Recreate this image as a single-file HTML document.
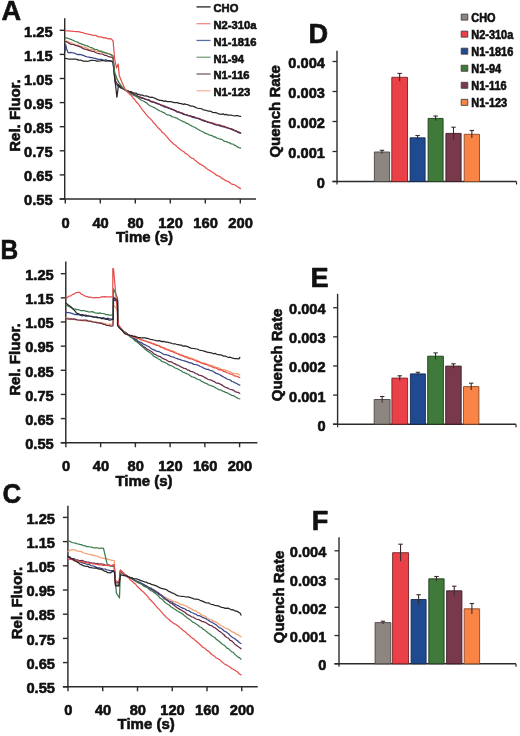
<!DOCTYPE html><html><head><meta charset="utf-8"><title>Figure</title><style>html,body{margin:0;padding:0;background:#fff;width:520px;height:736px;overflow:hidden}svg{display:block;filter:blur(0.3px)}</style></head><body><svg width="520" height="736" viewBox="0 0 520 736" font-family='"Liberation Sans", sans-serif' font-weight="bold" fill="#111" stroke-linejoin="round">
<style>text{stroke:#111;stroke-width:0.6px}</style>
<rect width="520" height="736" fill="#fff"/>
<text x="1.60" y="20.10" font-size="27.2" text-anchor="start" >A</text>
<text x="0.60" y="259.20" font-size="27.2" text-anchor="start"  textLength="17.68" lengthAdjust="spacingAndGlyphs">B</text>
<text x="2.50" y="503.40" font-size="27.2" text-anchor="start"  textLength="18.66" lengthAdjust="spacingAndGlyphs">C</text>
<text x="308.60" y="42.80" font-size="27.2" text-anchor="start" >D</text>
<text x="310.60" y="287.10" font-size="27.2" text-anchor="start" >E</text>
<text x="311.80" y="529.50" font-size="27.2" text-anchor="start" >F</text>
<line x1="64.70" y1="18.20" x2="64.70" y2="199.70" stroke="#2e2a2a" stroke-width="1.45"/>
<line x1="59.70" y1="199.00" x2="256.00" y2="199.00" stroke="#2e2a2a" stroke-width="1.45"/>
<line x1="59.70" y1="30.30" x2="64.70" y2="30.30" stroke="#2e2a2a" stroke-width="1.4"/>
<text x="52.60" y="36.50" font-size="14.7" text-anchor="end" >1.25</text>
<line x1="59.70" y1="54.40" x2="64.70" y2="54.40" stroke="#2e2a2a" stroke-width="1.4"/>
<text x="52.60" y="60.60" font-size="14.7" text-anchor="end" >1.15</text>
<line x1="59.70" y1="78.50" x2="64.70" y2="78.50" stroke="#2e2a2a" stroke-width="1.4"/>
<text x="52.60" y="84.70" font-size="14.7" text-anchor="end" >1.05</text>
<line x1="59.70" y1="102.60" x2="64.70" y2="102.60" stroke="#2e2a2a" stroke-width="1.4"/>
<text x="52.60" y="108.80" font-size="14.7" text-anchor="end" >0.95</text>
<line x1="59.70" y1="126.70" x2="64.70" y2="126.70" stroke="#2e2a2a" stroke-width="1.4"/>
<text x="52.60" y="132.90" font-size="14.7" text-anchor="end" >0.85</text>
<line x1="59.70" y1="150.80" x2="64.70" y2="150.80" stroke="#2e2a2a" stroke-width="1.4"/>
<text x="52.60" y="157.00" font-size="14.7" text-anchor="end" >0.75</text>
<line x1="59.70" y1="174.90" x2="64.70" y2="174.90" stroke="#2e2a2a" stroke-width="1.4"/>
<text x="52.60" y="181.10" font-size="14.7" text-anchor="end" >0.65</text>
<line x1="59.70" y1="199.00" x2="64.70" y2="199.00" stroke="#2e2a2a" stroke-width="1.4"/>
<text x="52.60" y="205.20" font-size="14.7" text-anchor="end" >0.55</text>
<line x1="65.30" y1="199.00" x2="65.30" y2="203.50" stroke="#2e2a2a" stroke-width="1.4"/>
<text x="65.60" y="227.50" font-size="14.7" text-anchor="middle" >0</text>
<line x1="100.30" y1="199.00" x2="100.30" y2="203.50" stroke="#2e2a2a" stroke-width="1.4"/>
<text x="100.60" y="227.50" font-size="14.7" text-anchor="middle" >40</text>
<line x1="135.30" y1="199.00" x2="135.30" y2="203.50" stroke="#2e2a2a" stroke-width="1.4"/>
<text x="135.60" y="227.50" font-size="14.7" text-anchor="middle" >80</text>
<line x1="170.30" y1="199.00" x2="170.30" y2="203.50" stroke="#2e2a2a" stroke-width="1.4"/>
<text x="170.60" y="227.50" font-size="14.7" text-anchor="middle" >120</text>
<line x1="205.30" y1="199.00" x2="205.30" y2="203.50" stroke="#2e2a2a" stroke-width="1.4"/>
<text x="205.60" y="227.50" font-size="14.7" text-anchor="middle" >160</text>
<line x1="240.30" y1="199.00" x2="240.30" y2="203.50" stroke="#2e2a2a" stroke-width="1.4"/>
<text x="240.60" y="227.50" font-size="14.7" text-anchor="middle" >200</text>
<text x="144.50" y="241.70" font-size="15" text-anchor="middle" >Time (s)</text>
<text x="0" y="0" font-size="15" text-anchor="middle" transform="translate(19.60,115.50) rotate(-90)">Rel. Fluor.</text>
<line x1="65.80" y1="261.50" x2="65.80" y2="443.45" stroke="#2e2a2a" stroke-width="1.45"/>
<line x1="60.80" y1="442.75" x2="257.40" y2="442.75" stroke="#2e2a2a" stroke-width="1.45"/>
<line x1="60.80" y1="273.70" x2="65.80" y2="273.70" stroke="#2e2a2a" stroke-width="1.4"/>
<text x="53.80" y="279.90" font-size="14.7" text-anchor="end" >1.25</text>
<line x1="60.80" y1="297.85" x2="65.80" y2="297.85" stroke="#2e2a2a" stroke-width="1.4"/>
<text x="53.80" y="304.05" font-size="14.7" text-anchor="end" >1.15</text>
<line x1="60.80" y1="322.00" x2="65.80" y2="322.00" stroke="#2e2a2a" stroke-width="1.4"/>
<text x="53.80" y="328.20" font-size="14.7" text-anchor="end" >1.05</text>
<line x1="60.80" y1="346.15" x2="65.80" y2="346.15" stroke="#2e2a2a" stroke-width="1.4"/>
<text x="53.80" y="352.35" font-size="14.7" text-anchor="end" >0.95</text>
<line x1="60.80" y1="370.30" x2="65.80" y2="370.30" stroke="#2e2a2a" stroke-width="1.4"/>
<text x="53.80" y="376.50" font-size="14.7" text-anchor="end" >0.85</text>
<line x1="60.80" y1="394.45" x2="65.80" y2="394.45" stroke="#2e2a2a" stroke-width="1.4"/>
<text x="53.80" y="400.65" font-size="14.7" text-anchor="end" >0.75</text>
<line x1="60.80" y1="418.60" x2="65.80" y2="418.60" stroke="#2e2a2a" stroke-width="1.4"/>
<text x="53.80" y="424.80" font-size="14.7" text-anchor="end" >0.65</text>
<line x1="60.80" y1="442.75" x2="65.80" y2="442.75" stroke="#2e2a2a" stroke-width="1.4"/>
<text x="53.80" y="448.95" font-size="14.7" text-anchor="end" >0.55</text>
<line x1="65.90" y1="442.75" x2="65.90" y2="447.25" stroke="#2e2a2a" stroke-width="1.4"/>
<text x="66.20" y="471.00" font-size="14.7" text-anchor="middle" >0</text>
<line x1="100.64" y1="442.75" x2="100.64" y2="447.25" stroke="#2e2a2a" stroke-width="1.4"/>
<text x="100.94" y="471.00" font-size="14.7" text-anchor="middle" >40</text>
<line x1="135.38" y1="442.75" x2="135.38" y2="447.25" stroke="#2e2a2a" stroke-width="1.4"/>
<text x="135.68" y="471.00" font-size="14.7" text-anchor="middle" >80</text>
<line x1="170.12" y1="442.75" x2="170.12" y2="447.25" stroke="#2e2a2a" stroke-width="1.4"/>
<text x="170.42" y="471.00" font-size="14.7" text-anchor="middle" >120</text>
<line x1="204.86" y1="442.75" x2="204.86" y2="447.25" stroke="#2e2a2a" stroke-width="1.4"/>
<text x="205.16" y="471.00" font-size="14.7" text-anchor="middle" >160</text>
<line x1="239.60" y1="442.75" x2="239.60" y2="447.25" stroke="#2e2a2a" stroke-width="1.4"/>
<text x="239.90" y="471.00" font-size="14.7" text-anchor="middle" >200</text>
<text x="144.00" y="485.60" font-size="15" text-anchor="middle" >Time (s)</text>
<text x="0" y="0" font-size="15" text-anchor="middle" transform="translate(20.40,359.60) rotate(-90)">Rel. Fluor.</text>
<line x1="67.90" y1="505.80" x2="67.90" y2="687.50" stroke="#2e2a2a" stroke-width="1.45"/>
<line x1="62.90" y1="686.80" x2="257.70" y2="686.80" stroke="#2e2a2a" stroke-width="1.45"/>
<line x1="62.90" y1="517.40" x2="67.90" y2="517.40" stroke="#2e2a2a" stroke-width="1.4"/>
<text x="55.00" y="523.60" font-size="14.7" text-anchor="end" >1.25</text>
<line x1="62.90" y1="541.60" x2="67.90" y2="541.60" stroke="#2e2a2a" stroke-width="1.4"/>
<text x="55.00" y="547.80" font-size="14.7" text-anchor="end" >1.15</text>
<line x1="62.90" y1="565.80" x2="67.90" y2="565.80" stroke="#2e2a2a" stroke-width="1.4"/>
<text x="55.00" y="572.00" font-size="14.7" text-anchor="end" >1.05</text>
<line x1="62.90" y1="590.00" x2="67.90" y2="590.00" stroke="#2e2a2a" stroke-width="1.4"/>
<text x="55.00" y="596.20" font-size="14.7" text-anchor="end" >0.95</text>
<line x1="62.90" y1="614.20" x2="67.90" y2="614.20" stroke="#2e2a2a" stroke-width="1.4"/>
<text x="55.00" y="620.40" font-size="14.7" text-anchor="end" >0.85</text>
<line x1="62.90" y1="638.40" x2="67.90" y2="638.40" stroke="#2e2a2a" stroke-width="1.4"/>
<text x="55.00" y="644.60" font-size="14.7" text-anchor="end" >0.75</text>
<line x1="62.90" y1="662.60" x2="67.90" y2="662.60" stroke="#2e2a2a" stroke-width="1.4"/>
<text x="55.00" y="668.80" font-size="14.7" text-anchor="end" >0.65</text>
<line x1="62.90" y1="686.80" x2="67.90" y2="686.80" stroke="#2e2a2a" stroke-width="1.4"/>
<text x="55.00" y="693.00" font-size="14.7" text-anchor="end" >0.55</text>
<line x1="68.00" y1="686.80" x2="68.00" y2="691.30" stroke="#2e2a2a" stroke-width="1.4"/>
<text x="68.30" y="715.20" font-size="14.7" text-anchor="middle" >0</text>
<line x1="102.75" y1="686.80" x2="102.75" y2="691.30" stroke="#2e2a2a" stroke-width="1.4"/>
<text x="103.05" y="715.20" font-size="14.7" text-anchor="middle" >40</text>
<line x1="137.50" y1="686.80" x2="137.50" y2="691.30" stroke="#2e2a2a" stroke-width="1.4"/>
<text x="137.80" y="715.20" font-size="14.7" text-anchor="middle" >80</text>
<line x1="172.25" y1="686.80" x2="172.25" y2="691.30" stroke="#2e2a2a" stroke-width="1.4"/>
<text x="172.55" y="715.20" font-size="14.7" text-anchor="middle" >120</text>
<line x1="207.00" y1="686.80" x2="207.00" y2="691.30" stroke="#2e2a2a" stroke-width="1.4"/>
<text x="207.30" y="715.20" font-size="14.7" text-anchor="middle" >160</text>
<line x1="241.75" y1="686.80" x2="241.75" y2="691.30" stroke="#2e2a2a" stroke-width="1.4"/>
<text x="242.05" y="715.20" font-size="14.7" text-anchor="middle" >200</text>
<text x="146.20" y="729.40" font-size="15" text-anchor="middle" >Time (s)</text>
<text x="0" y="0" font-size="15" text-anchor="middle" transform="translate(21.50,603.00) rotate(-90)">Rel. Fluor.</text>
<line x1="196.50" y1="6.90" x2="210.60" y2="6.90" stroke="#222" stroke-width="1.3"/>
<text x="213.50" y="12.30" font-size="11.2" text-anchor="start" >CHO</text>
<line x1="196.50" y1="23.68" x2="210.60" y2="23.68" stroke="#f08a8a" stroke-width="1.3"/>
<text x="213.50" y="29.08" font-size="11.2" text-anchor="start" >N2-310a</text>
<line x1="196.50" y1="40.46" x2="210.60" y2="40.46" stroke="#5a6fa8" stroke-width="1.3"/>
<text x="213.50" y="45.86" font-size="11.2" text-anchor="start" >N1-1816</text>
<line x1="196.50" y1="57.24" x2="210.60" y2="57.24" stroke="#7aa07a" stroke-width="1.3"/>
<text x="213.50" y="62.64" font-size="11.2" text-anchor="start" >N1-94</text>
<line x1="196.50" y1="74.02" x2="210.60" y2="74.02" stroke="#7a5a66" stroke-width="1.3"/>
<text x="213.50" y="79.42" font-size="11.2" text-anchor="start" >N1-116</text>
<line x1="196.50" y1="90.80" x2="210.60" y2="90.80" stroke="#f5b89a" stroke-width="1.3"/>
<text x="213.50" y="96.20" font-size="11.2" text-anchor="start" >N1-123</text>
<polyline points="65.4,40.8 67.0,41.2 68.5,41.7 70.1,42.7 71.7,42.8 73.4,43.8 75.4,44.5 76.7,44.8 78.1,45.0 79.5,45.9 81.0,46.0 82.5,46.9 84.0,47.1 85.7,47.6 87.3,48.4 89.0,49.3 90.8,49.5 92.2,49.5 93.6,50.0 95.1,50.7 96.6,51.4 98.2,51.4 99.7,51.6 101.3,52.5 102.9,52.0 104.5,53.1 106.1,52.9 107.7,53.2 109.2,53.5 110.8,54.2 113.0,56.0 115.0,75.0 118.0,82.0 119.7,83.9 121.3,86.4 123.1,87.8 125.4,90.0 126.6,90.9 128.0,91.7 129.5,92.2 131.1,93.1 132.7,93.4 134.3,94.2 136.0,95.0 137.6,96.1 139.2,96.6 140.8,97.2 142.5,97.8 144.3,98.6 146.0,99.2 147.8,99.6 149.4,100.7 151.0,101.1 152.4,101.2 153.7,101.9 155.5,102.6 156.5,102.9 157.7,103.7 160.0,104.3 161.1,105.0 162.4,105.1 163.8,106.3 165.3,106.1 166.9,107.1 168.6,108.1 170.3,108.2 172.0,109.2 173.8,109.5 175.4,110.8 177.1,111.5 178.6,111.9 180.0,112.4 181.7,113.4 183.4,113.4 185.0,114.3 186.5,114.7 188.0,115.2 189.5,115.5 190.9,116.3 192.3,116.8 193.7,116.8 195.0,117.3 196.8,118.1 198.5,118.1 200.2,119.3 201.7,119.8 203.3,120.7 204.9,121.1 206.5,121.3 208.2,121.6 209.8,122.2 211.5,123.0 213.1,122.9 214.8,123.8 216.4,124.0 218.1,124.8 219.8,124.9 221.4,125.4 223.1,126.5 224.7,126.4 226.4,127.0 228.0,127.6 229.6,128.3 231.2,129.2 232.8,129.2 234.3,130.1 235.9,130.9 237.5,131.9 239.0,132.5 240.6,132.9" fill="none" stroke="#f4a072" stroke-width="1.25" stroke-linejoin="round" stroke-linecap="round" opacity="1.0"/>
<polyline points="65.2,51.0 65.6,44.5 66.5,48.5 67.9,52.3 69.3,52.8 70.5,52.4 71.8,52.7 73.4,52.9 75.4,53.5 76.6,54.1 77.9,54.6 79.3,54.3 80.8,54.7 82.3,55.2 83.9,55.7 85.6,56.4 87.3,57.0 89.0,57.1 90.8,57.7 92.2,57.5 93.6,58.2 95.1,58.4 96.6,58.8 98.2,59.4 99.7,59.4 101.3,59.4 102.9,59.8 104.5,60.0 106.1,59.7 107.7,60.7 109.2,60.8 110.8,60.8 113.0,62.0 115.0,82.0 118.0,86.0 119.7,87.3 121.3,88.1 123.1,88.7 125.4,90.0 126.6,90.6 128.0,91.0 129.5,92.3 131.1,92.6 132.7,93.5 134.3,94.4 136.0,95.2 137.6,96.1 139.2,97.0 140.8,97.3 142.5,97.9 144.3,98.7 146.0,99.3 147.8,100.1 149.4,100.4 151.0,101.7 152.4,102.0 153.7,102.3 155.5,102.7 156.5,103.1 157.7,103.6 160.0,104.7 161.1,105.0 162.4,105.3 163.8,106.6 165.3,107.3 166.9,107.5 168.6,108.2 170.3,108.6 172.0,109.3 173.8,110.2 175.4,110.8 177.1,112.0 178.6,112.0 180.0,112.8 181.7,113.0 183.4,114.4 185.0,114.6 186.5,114.7 188.0,115.5 189.5,115.5 190.9,116.4 192.3,117.3 193.7,117.6 195.0,117.7 196.8,118.5 198.5,118.7 200.2,119.4 201.7,119.8 203.3,120.9 204.9,121.2 206.5,121.7 208.2,122.5 209.8,122.6 211.5,123.0 213.1,124.0 214.8,124.7 216.4,125.0 218.1,125.2 219.8,126.0 221.4,126.5 223.1,126.9 224.7,126.9 226.4,127.6 228.0,128.0 229.6,128.7 231.2,128.9 232.8,129.5 234.3,130.4 235.9,131.0 237.5,132.1 239.0,133.0 240.6,133.2" fill="none" stroke="#3b4889" stroke-width="1.25" stroke-linejoin="round" stroke-linecap="round" opacity="1.0"/>
<polyline points="65.4,41.5 67.0,42.1 68.5,43.1 70.1,43.8 71.7,44.4 73.4,44.5 75.4,45.4 76.7,45.6 78.1,46.1 79.5,46.6 81.0,47.2 82.5,48.1 84.0,48.9 85.7,49.4 87.3,49.6 89.0,50.4 90.8,50.8 92.2,51.5 93.6,51.3 95.1,52.3 96.6,53.0 98.2,53.3 99.7,53.8 101.3,54.0 102.9,54.2 104.5,55.3 106.1,55.3 107.7,56.2 109.2,56.9 110.8,56.9 113.0,58.0 115.0,80.0 118.0,85.0 119.7,86.1 121.3,87.3 123.1,89.0 125.4,90.0 126.6,90.9 128.0,91.1 129.5,91.9 131.1,92.7 132.7,94.1 134.3,94.9 136.0,95.0 137.6,96.4 139.2,96.8 140.8,97.9 142.5,98.3 144.3,98.7 146.0,99.5 147.8,99.7 149.4,100.2 151.0,101.6 152.4,101.8 153.7,102.1 155.5,102.8 156.5,103.5 157.7,103.5 160.0,104.5 161.1,105.3 162.4,105.8 163.8,105.8 165.3,106.5 166.9,107.2 168.6,107.8 170.3,108.8 172.0,109.2 173.8,110.1 175.4,110.5 177.1,111.8 178.6,111.9 180.0,112.6 181.7,113.2 183.4,113.9 185.0,114.7 186.5,114.8 188.0,115.7 189.5,115.8 190.9,116.2 192.3,116.6 193.7,116.6 195.0,117.5 196.8,118.1 198.5,118.4 200.2,118.9 201.7,120.1 203.3,120.1 204.9,120.9 206.5,121.5 208.2,122.2 209.8,122.6 211.5,122.9 213.1,123.5 214.8,124.1 216.4,124.8 218.1,125.0 219.8,125.1 221.4,126.0 223.1,126.2 224.7,126.7 226.4,127.7 228.0,128.0 229.6,128.5 231.2,129.1 232.8,129.9 234.3,130.7 235.9,130.9 237.5,131.6 239.0,132.2 240.6,132.8" fill="none" stroke="#682c47" stroke-width="1.25" stroke-linejoin="round" stroke-linecap="round" opacity="1.0"/>
<polyline points="65.4,58.5 66.9,58.7 68.4,59.0 70.0,59.0 71.8,59.0 73.6,59.1 75.4,59.2 76.9,59.4 78.3,60.1 80.0,60.0 81.3,60.4 82.9,60.9 84.5,61.3 86.1,61.0 87.7,61.5 90.8,60.3 92.9,60.4 95.0,60.5 96.6,61.1 98.3,61.2 100.0,61.0 101.6,60.7 103.3,60.7 105.0,61.0 106.9,61.0 108.8,60.7 110.8,61.2 113.0,62.0 115.0,80.0 116.9,97.2 117.6,92.0 118.5,84.6 120.8,87.7 122.0,88.2 123.2,88.7 125.4,90.0 126.5,90.6 127.8,91.1 129.3,91.7 130.9,91.6 132.5,92.6 134.2,93.1 135.9,93.1 137.6,94.3 139.2,94.4 140.8,95.2 142.5,95.0 144.3,96.0 146.0,95.9 147.8,96.4 149.4,97.2 151.0,97.4 152.4,97.2 153.7,97.8 155.5,98.4 156.5,99.1 157.7,99.6 160.0,100.4 161.1,100.3 162.4,100.7 163.9,101.3 165.5,100.9 167.2,101.6 168.9,101.7 170.7,101.6 172.5,102.1 174.2,102.6 175.8,102.7 177.4,102.5 178.8,103.5 180.0,103.3 182.1,103.9 183.6,104.4 184.8,103.9 185.9,104.3 187.3,104.5 189.2,105.4 190.5,106.0 191.9,106.0 193.5,106.3 195.1,107.1 196.8,108.0 198.6,108.4 200.3,108.5 202.0,108.9 203.6,110.0 205.1,110.2 206.5,110.5 208.4,111.2 209.9,111.1 211.3,111.5 212.7,112.5 214.2,112.6 215.9,112.7 218.1,113.5 219.3,114.1 220.6,114.0 221.9,114.4 223.3,113.9 224.8,114.8 226.3,114.3 227.9,115.2 229.5,115.0 231.1,115.1 232.7,115.5 234.3,116.0 235.9,115.6 237.5,115.7 239.1,116.2 240.6,116.4" fill="none" stroke="#29262a" stroke-width="1.25" stroke-linejoin="round" stroke-linecap="round" opacity="1.0"/>
<polyline points="65.4,37.7 67.0,38.1 68.5,38.5 70.1,39.1 71.7,39.7 73.4,40.5 75.4,41.5 76.7,41.9 78.1,42.4 79.5,43.4 81.0,43.6 82.5,44.4 84.0,44.8 85.7,45.6 87.3,45.9 89.0,46.8 90.8,47.7 92.2,47.8 93.6,48.9 95.1,49.3 96.6,49.5 98.2,50.3 99.7,51.2 101.3,51.0 102.9,52.2 104.5,52.4 106.1,53.0 107.7,53.8 109.2,54.0 110.8,54.6 113.0,56.0 114.6,72.3 116.9,78.5 119.2,83.0 120.5,84.7 121.6,86.5 123.1,88.4 125.4,90.0 126.5,90.7 127.8,92.0 129.2,92.8 130.6,93.7 132.2,94.5 133.8,95.4 135.5,96.1 137.2,97.2 138.8,98.2 140.5,99.7 142.1,100.5 143.7,101.2 145.3,102.1 146.8,103.0 148.4,104.7 150.0,105.7 151.7,106.5 153.3,107.1 154.9,108.0 156.6,109.0 158.3,110.1 160.0,111.0 161.5,111.4 163.0,112.4 164.5,112.9 166.0,114.2 167.5,114.9 169.1,115.2 170.6,115.6 172.2,116.9 173.8,117.0 175.3,117.7 176.9,118.1 178.5,119.2 180.0,120.0 181.5,120.7 183.1,121.6 184.7,122.1 186.2,123.2 187.8,123.6 189.3,124.7 190.9,125.4 192.4,126.5 194.0,127.0 195.5,127.8 197.0,128.8 198.5,129.5 200.0,130.5 201.6,131.3 203.2,132.0 204.8,132.9 206.4,133.6 208.0,134.3 209.6,135.1 211.1,135.3 212.6,135.9 214.1,137.1 215.5,136.9 216.8,138.0 218.1,138.3 220.1,139.2 221.9,139.4 223.5,140.8 225.1,141.4 226.5,141.7 228.0,142.4 229.6,142.9 231.2,143.9 232.8,144.0 234.3,145.1 235.9,145.8 237.5,146.9 239.0,147.6 240.6,148.1" fill="none" stroke="#3c7a50" stroke-width="1.25" stroke-linejoin="round" stroke-linecap="round" opacity="1.0"/>
<polyline points="65.4,30.5 67.0,30.9 68.5,30.8 70.1,31.2 71.7,31.2 73.4,31.4 75.4,31.5 76.7,31.5 78.1,31.6 79.6,31.9 81.2,32.4 82.8,32.5 84.4,33.5 86.0,33.6 87.6,34.0 89.2,34.4 90.8,34.6 92.4,35.1 94.0,35.3 95.7,35.3 97.4,36.4 99.1,36.8 100.8,36.9 102.3,37.3 103.8,37.8 105.1,37.6 106.2,38.2 108.7,38.9 110.1,38.7 111.5,39.2 113.1,41.0 114.6,58.5 116.5,68.0 118.2,64.0 119.2,75.4 122.3,83.0 125.4,90.0 126.9,91.1 128.4,92.7 129.9,94.6 131.4,95.6 132.9,97.7 134.4,99.2 136.0,101.5 137.6,103.2 139.2,105.2 140.8,107.5 142.4,109.8 144.0,111.7 145.7,113.9 147.4,115.8 149.1,117.8 150.7,119.1 152.3,120.9 153.7,122.8 155.8,124.9 157.5,127.2 159.6,129.2 161.0,130.5 162.5,132.5 164.2,133.8 165.9,135.7 167.6,137.7 169.2,139.6 170.8,141.3 172.4,142.8 174.0,144.3 175.6,145.3 177.2,146.9 178.8,148.2 180.4,149.5 182.1,150.8 183.8,151.7 185.5,153.6 187.1,154.1 188.5,155.4 190.2,157.1 191.6,158.1 193.1,158.4 195.0,160.2 196.4,161.2 197.9,162.6 199.6,163.9 201.3,164.7 203.1,165.8 204.8,167.0 206.5,168.4 208.2,169.9 209.8,170.3 211.5,171.7 213.1,172.4 214.8,173.8 216.4,175.2 218.1,175.8 219.8,176.5 221.4,178.1 223.1,178.8 224.7,180.1 226.4,180.8 228.0,181.3 229.6,182.5 231.2,183.8 232.8,184.3 234.3,184.7 235.9,185.5 237.5,186.8 239.0,187.6 240.6,188.5" fill="none" stroke="#e5504f" stroke-width="1.25" stroke-linejoin="round" stroke-linecap="round" opacity="1.0"/>
<polyline points="66.0,317.7 67.5,317.9 68.9,318.1 70.3,318.6 71.8,318.9 73.5,319.7 75.4,319.7 76.7,319.4 78.0,320.3 79.4,320.5 80.9,320.0 82.4,320.9 84.0,320.9 85.7,321.2 87.3,320.9 89.0,321.2 90.8,321.5 92.2,321.6 93.6,322.4 95.1,322.2 96.6,322.2 98.2,322.5 99.7,322.6 101.3,322.7 102.9,323.0 104.5,323.9 106.1,323.7 107.7,324.5 109.2,324.1 110.8,324.6 113.0,324.0 113.5,305.0 115.5,307.3 117.5,310.0 118.0,325.0 119.6,327.1 121.3,328.9 123.0,331.0 124.0,332.2 125.1,333.8 128.5,335.0 129.5,335.8 130.7,336.1 132.0,336.4 133.4,337.2 134.9,337.7 136.5,337.9 138.2,338.6 139.9,338.6 141.6,339.8 143.4,340.1 145.2,341.0 147.0,341.5 148.8,341.8 150.5,342.1 152.2,343.5 153.8,343.4 155.4,344.3 157.0,344.9 158.5,345.4 160.1,345.9 161.6,346.9 163.1,347.7 164.6,347.7 166.0,348.7 167.5,349.0 169.0,349.8 170.5,350.3 172.0,350.7 173.5,351.3 175.1,352.0 176.7,353.3 178.3,353.5 180.0,354.2 181.4,354.5 182.9,355.7 184.4,356.3 185.9,356.4 187.5,356.7 189.1,357.4 190.6,357.9 192.2,358.7 193.8,359.0 195.4,359.8 197.0,360.4 198.7,361.3 200.3,362.1 201.9,362.6 203.5,362.9 205.1,363.4 206.7,364.1 208.3,364.5 209.9,365.2 211.5,365.6 213.0,365.9 214.6,366.6 216.2,367.8 217.8,367.5 219.3,368.4 220.9,369.0 222.5,369.7 224.1,369.7 225.6,370.2 227.2,370.7 228.8,371.4 230.4,371.9 231.9,372.9 233.5,373.3 235.1,373.8 236.7,373.5 238.2,374.1 239.8,375.0" fill="none" stroke="#f4a072" stroke-width="1.25" stroke-linejoin="round" stroke-linecap="round" opacity="1.0"/>
<polyline points="66.0,318.5 67.6,318.9 69.1,319.2 70.7,318.9 72.3,319.2 73.9,318.8 75.5,319.3 77.1,319.9 78.7,320.0 80.3,320.2 81.9,320.4 83.4,320.0 84.9,320.0 86.4,320.2 87.9,320.8 89.4,321.1 90.8,321.2 92.5,321.9 94.1,322.0 95.7,322.3 97.3,322.8 98.8,322.9 100.4,323.4 101.8,323.3 103.3,324.4 104.8,324.3 106.3,325.4 107.8,325.5 109.3,325.6 110.8,326.2 113.0,326.0 113.5,300.0 115.5,300.7 117.5,302.0 118.0,326.0 119.6,327.5 121.3,329.5 123.0,331.0 124.0,332.0 125.1,332.2 128.5,335.0 129.5,335.4 130.7,336.6 132.0,337.7 133.4,338.6 134.9,339.6 136.5,341.1 138.2,341.8 139.9,343.4 141.6,344.8 143.4,346.6 145.2,347.6 147.0,349.1 148.8,350.0 150.5,351.0 152.2,352.1 153.8,353.8 155.4,354.4 157.0,355.5 158.5,356.1 160.1,356.6 161.6,357.8 163.1,358.7 164.6,359.2 166.0,359.8 167.5,360.8 169.0,361.7 170.5,361.7 172.0,362.2 173.5,363.2 175.1,363.9 176.7,364.9 178.3,365.2 180.0,366.2 181.4,367.1 182.9,367.8 184.4,368.3 185.9,368.7 187.5,370.1 189.1,370.2 190.6,371.4 192.2,371.6 193.8,372.3 195.4,373.5 197.0,373.8 198.7,375.1 200.3,375.4 201.9,375.9 203.5,376.7 205.1,377.6 206.7,378.5 208.3,379.5 209.9,379.8 211.5,380.2 213.0,381.1 214.6,381.7 216.2,383.1 217.8,383.1 219.3,383.7 220.9,384.4 222.5,385.4 224.1,386.6 225.6,387.3 227.2,387.9 228.8,388.8 230.4,389.5 231.9,389.7 233.5,390.3 235.1,391.6 236.7,392.2 238.2,392.3 239.8,393.4" fill="none" stroke="#682c47" stroke-width="1.25" stroke-linejoin="round" stroke-linecap="round" opacity="1.0"/>
<polyline points="66.0,312.3 67.6,312.7 69.2,312.7 70.8,313.1 71.9,313.4 73.1,313.9 75.4,314.6 76.5,314.5 77.7,314.5 79.1,314.9 80.6,315.2 82.1,315.9 83.8,315.3 85.5,316.3 87.3,315.8 89.0,316.2 90.8,316.5 92.2,317.0 93.6,317.1 95.1,317.0 96.6,316.8 98.2,317.4 99.7,317.5 101.3,318.2 102.9,317.7 104.5,318.1 106.1,318.8 107.7,318.2 109.2,318.7 110.8,319.0 113.3,319.0 113.5,297.0 115.5,298.8 117.5,300.0 118.0,325.0 119.6,327.3 121.3,328.7 123.0,331.0 124.0,331.6 125.1,332.5 128.5,335.0 129.5,336.0 130.7,336.1 132.0,337.3 133.4,338.3 134.9,338.7 136.5,339.6 138.2,341.3 139.9,342.0 141.6,342.7 143.4,344.1 145.2,344.8 147.0,345.8 148.8,346.5 150.5,348.1 152.2,349.2 153.8,349.8 155.4,350.4 157.0,351.5 158.5,351.4 160.1,352.2 161.6,353.0 163.1,354.0 164.6,354.6 166.0,354.6 167.5,355.0 169.0,355.6 170.5,356.2 172.0,357.0 173.5,356.9 175.1,358.0 176.7,358.4 178.3,359.1 180.0,359.4 181.4,360.2 182.9,360.5 184.4,360.8 185.9,361.3 187.5,361.9 189.1,362.8 190.6,362.7 192.2,363.4 193.8,364.4 195.4,364.5 197.0,364.9 198.7,365.5 200.3,366.5 201.9,366.9 203.5,368.1 205.1,368.7 206.7,369.4 208.3,369.4 209.9,370.3 211.5,370.6 213.0,371.3 214.6,372.4 216.2,373.4 217.8,373.9 219.3,374.5 220.9,375.4 222.5,376.4 224.1,377.3 225.6,378.1 227.2,379.0 228.8,379.7 230.4,380.0 231.9,381.5 233.5,381.8 235.1,382.9 236.7,383.5 238.2,384.6 239.8,385.2" fill="none" stroke="#3b4889" stroke-width="1.25" stroke-linejoin="round" stroke-linecap="round" opacity="1.0"/>
<polyline points="66.0,305.4 67.5,305.8 68.9,306.5 70.3,307.1 71.8,307.7 73.5,309.0 75.4,309.2 76.7,309.6 78.0,309.6 79.4,310.0 80.9,310.7 82.4,310.5 84.0,310.5 85.7,311.3 87.3,311.4 89.0,312.0 90.8,311.8 92.2,311.7 93.6,312.2 95.1,312.8 96.6,313.1 98.2,313.4 99.7,312.9 101.3,313.4 102.9,313.5 104.5,313.8 106.1,314.7 107.7,314.7 109.2,315.2 110.8,315.1 113.2,315.0 113.5,288.8 117.5,298.0 118.0,325.0 119.6,327.0 121.3,329.5 123.0,331.0 124.0,331.8 125.1,332.2 128.5,335.0 129.5,336.1 130.7,337.2 132.0,337.6 133.4,339.2 134.9,340.6 136.5,341.6 138.2,343.1 139.9,344.4 141.6,346.0 143.4,347.5 145.2,349.3 147.0,350.8 148.8,351.9 150.5,353.1 152.2,354.6 153.8,356.2 155.4,357.1 157.0,357.9 158.5,359.0 160.1,359.8 161.6,361.3 163.1,361.9 164.6,362.2 166.0,363.0 167.5,364.1 169.0,364.9 170.5,365.7 172.0,366.0 173.5,366.8 175.1,368.0 176.7,368.5 178.3,369.2 180.0,370.3 181.4,370.9 182.9,372.2 184.4,372.4 185.9,373.4 187.5,374.0 189.1,374.8 190.6,376.0 192.2,377.0 193.8,377.2 195.4,377.9 197.0,379.1 198.7,379.5 200.3,380.1 201.9,381.7 203.5,382.1 205.1,383.2 206.7,383.6 208.3,384.8 209.9,385.2 211.5,385.9 213.0,386.4 214.6,387.0 216.2,388.2 217.8,389.0 219.3,390.0 220.9,389.9 222.5,391.1 224.1,391.6 225.6,392.4 227.2,392.8 228.8,393.7 230.4,394.6 231.9,395.6 233.5,395.6 235.1,396.7 236.7,397.6 238.2,398.5 239.8,398.8" fill="none" stroke="#3c7a50" stroke-width="1.25" stroke-linejoin="round" stroke-linecap="round" opacity="1.0"/>
<polyline points="66.0,298.5 67.6,297.2 69.2,296.1 70.8,295.9 72.3,294.6 74.3,293.9 76.2,292.6 78.2,292.3 79.7,292.4 81.2,294.1 82.8,294.7 84.6,295.7 86.0,296.5 87.5,296.7 89.0,297.3 90.6,297.0 92.2,297.8 93.8,297.7 95.4,297.5 96.9,297.5 98.5,297.7 100.1,297.5 101.6,296.7 103.1,296.9 104.8,296.6 106.5,296.8 108.2,296.9 109.8,296.8 111.5,296.9 112.8,297.0 112.8,268.7 113.5,268.7 118.6,325.2 120.7,327.9 123.0,331.0 124.0,332.0 125.0,333.5 128.5,335.0 129.5,335.8 130.7,335.5 132.0,336.4 133.4,337.1 134.9,337.0 136.5,338.3 138.2,338.3 139.9,339.3 141.6,339.9 143.4,340.6 145.2,340.9 147.0,341.6 148.8,342.4 150.5,342.9 152.2,343.7 153.8,344.2 155.4,344.8 157.0,345.4 158.5,345.6 160.1,346.8 161.6,347.3 163.1,347.7 164.6,348.8 166.0,349.5 167.5,349.8 169.0,350.2 170.5,351.1 172.0,351.4 173.5,352.1 175.1,353.0 176.7,353.3 178.3,354.3 180.0,355.0 181.4,355.6 182.9,355.7 184.4,356.8 185.9,356.8 187.5,358.0 189.1,358.6 190.6,358.9 192.2,359.0 193.8,360.0 195.4,360.5 197.0,361.6 198.7,361.4 200.3,362.6 201.9,363.3 203.5,363.7 205.1,364.3 206.7,364.3 208.3,365.6 209.9,365.8 211.5,366.4 213.0,367.4 214.6,368.0 216.2,367.9 217.8,369.1 219.3,369.9 220.9,369.7 222.5,370.6 224.1,371.6 225.6,371.7 227.2,373.0 228.8,373.1 230.4,374.2 231.9,374.2 233.5,375.2 235.1,376.2 236.7,376.2 238.2,376.9 239.8,377.7" fill="none" stroke="#e5504f" stroke-width="1.25" stroke-linejoin="round" stroke-linecap="round" opacity="1.0"/>
<polyline points="66.0,303.1 67.6,304.5 69.2,305.6 70.7,306.7 72.3,308.5 73.7,309.6 75.0,311.0 76.5,313.1 78.5,313.8 79.7,314.4 81.0,314.9 82.3,314.6 83.8,315.4 85.4,315.0 87.0,315.6 88.9,316.0 90.8,316.2 92.1,316.3 93.5,317.0 94.9,317.0 96.4,317.3 97.9,317.9 99.5,317.5 101.1,318.6 102.8,318.6 104.4,318.7 106.0,319.4 107.6,319.2 109.2,320.1 110.8,320.0 113.2,319.2 113.2,298.0 115.3,299.2 117.5,300.2 117.5,325.2 119.0,327.5 121.0,329.4 123.1,331.5 124.0,332.9 125.1,333.7 128.5,335.0 129.5,335.0 130.7,335.8 132.0,335.4 133.4,336.4 134.9,336.2 136.5,336.9 138.2,337.5 139.9,337.5 141.6,337.9 143.4,337.9 145.2,337.9 147.0,338.3 148.8,338.7 150.5,339.5 152.2,339.6 153.8,340.0 155.4,340.3 157.0,341.0 158.5,340.6 160.1,340.9 161.6,341.6 163.1,341.3 164.6,341.6 166.0,342.2 167.5,342.2 169.0,342.7 170.5,342.9 172.0,343.5 173.5,343.8 175.1,343.8 176.7,344.5 178.3,344.7 180.0,345.1 181.5,345.1 182.9,346.2 184.5,345.9 186.0,346.2 187.6,346.6 189.2,347.4 190.8,348.1 192.4,348.4 194.1,348.5 195.7,348.8 197.3,349.0 199.0,350.0 200.6,350.3 202.2,350.5 203.8,351.2 205.4,351.4 206.9,352.2 208.4,352.4 209.9,352.6 211.6,352.8 213.3,353.8 215.0,353.4 216.7,354.3 218.5,354.6 220.2,354.9 221.9,355.2 223.6,356.2 225.2,356.0 226.8,356.8 228.4,357.5 229.8,357.2 231.2,357.5 232.5,358.2 233.7,358.3 234.8,358.7 235.7,358.7 239.1,358.8 239.8,357.4" fill="none" stroke="#29262a" stroke-width="1.25" stroke-linejoin="round" stroke-linecap="round" opacity="1.0"/>
<polyline points="68.0,551.5 69.3,550.7 70.4,550.1 71.9,549.7 74.3,550.0 75.4,549.8 76.6,550.9 78.0,551.1 79.5,551.5 81.0,551.3 82.6,552.6 84.3,553.0 86.0,553.3 87.7,554.1 89.4,554.4 91.1,554.7 92.8,555.4 94.2,555.4 95.7,555.9 97.2,556.1 98.7,556.8 100.3,557.6 101.8,557.9 103.4,558.4 104.9,558.7 106.5,558.7 108.1,559.3 109.6,559.6 111.2,560.3 112.8,560.4 114.3,560.8 115.0,584.0 117.0,584.8 119.0,586.0 120.4,571.0 121.8,572.2 123.0,573.5 124.2,573.8 126.0,575.7 128.8,577.0 129.9,577.2 131.2,578.1 132.7,578.8 134.2,580.1 135.8,581.1 137.5,581.8 139.3,582.3 141.1,583.7 142.9,584.1 144.7,584.9 146.4,586.4 148.1,587.0 149.8,587.9 151.3,588.7 152.7,589.7 154.0,590.0 156.0,591.1 157.6,592.5 159.1,593.4 160.4,594.4 161.6,595.0 162.8,596.1 164.2,596.9 165.8,597.5 167.6,598.7 168.9,599.1 170.3,600.1 171.8,600.2 173.3,601.6 174.9,601.6 176.5,602.1 178.2,602.8 179.9,604.2 181.6,604.4 183.3,604.9 185.0,605.5 186.7,606.2 188.3,607.6 190.0,608.2 191.5,609.1 193.0,609.9 194.5,610.7 196.1,610.9 197.6,612.2 199.1,612.9 200.6,614.1 202.1,615.0 203.7,615.9 205.3,616.1 206.8,617.7 208.4,618.7 210.1,619.6 211.7,619.8 213.4,621.1 214.8,621.6 216.3,622.4 217.8,623.1 219.3,624.7 220.8,625.5 222.3,626.2 223.8,627.3 225.4,628.0 226.9,628.6 228.5,629.3 230.1,630.2 231.6,631.7 233.2,632.1 234.8,633.1 236.4,634.1 237.9,634.6 239.5,635.7 241.0,636.8" fill="none" stroke="#f4a072" stroke-width="1.25" stroke-linejoin="round" stroke-linecap="round" opacity="1.0"/>
<polyline points="68.0,557.7 69.6,557.8 71.1,558.6 72.7,558.6 74.3,558.9 75.9,559.9 77.4,559.8 79.0,560.5 80.6,560.6 82.2,560.4 83.7,561.1 85.3,561.5 86.8,562.1 88.4,562.0 89.9,562.6 91.3,562.8 92.8,563.0 94.4,563.0 96.0,563.9 97.6,563.4 99.2,564.3 100.7,563.9 102.2,564.0 103.8,564.4 105.3,565.1 106.8,565.5 108.3,564.8 109.8,565.4 111.3,565.6 112.8,566.1 114.3,566.0 115.5,583.0 117.2,582.7 119.0,583.0 120.4,571.0 121.8,572.1 123.0,572.9 124.2,574.3 126.0,575.1 128.8,577.0 129.9,578.1 131.2,578.2 132.7,578.9 134.2,580.2 135.8,580.9 137.5,581.5 139.3,582.9 141.1,583.4 142.9,585.0 144.7,585.9 146.4,586.9 148.1,587.7 149.8,588.4 151.3,589.3 152.7,590.1 154.0,591.0 156.0,592.6 157.6,593.0 159.1,594.7 160.4,594.9 161.6,596.1 162.8,597.1 164.2,598.7 165.8,599.5 167.6,600.8 168.9,601.6 170.3,603.0 171.8,603.5 173.3,604.8 174.9,605.9 176.5,607.2 178.2,608.4 179.9,609.4 181.6,610.3 183.3,611.4 185.0,612.3 186.7,614.0 188.3,614.9 190.0,615.7 191.5,616.8 193.0,617.0 194.5,618.0 196.1,619.0 197.6,619.4 199.1,619.7 200.6,620.6 202.1,621.6 203.7,621.7 205.3,622.4 206.8,623.2 208.4,624.4 210.1,625.4 211.7,625.7 213.4,627.1 214.8,627.7 216.3,628.8 217.8,630.0 219.3,631.2 220.8,632.1 222.3,633.4 223.8,634.5 225.4,636.5 226.9,637.5 228.5,638.2 230.1,640.3 231.6,640.8 233.2,642.4 234.8,644.2 236.4,645.3 237.9,646.5 239.5,647.5 241.0,648.8" fill="none" stroke="#682c47" stroke-width="1.25" stroke-linejoin="round" stroke-linecap="round" opacity="1.0"/>
<polyline points="68.0,557.0 69.5,557.4 70.9,558.4 72.3,558.6 73.8,559.3 75.5,560.2 77.4,561.0 78.7,561.0 80.1,561.9 81.6,562.7 83.1,563.2 84.7,563.5 86.4,564.1 88.0,564.5 89.6,564.7 91.2,565.6 92.8,566.0 94.4,566.4 96.0,567.1 97.7,567.8 99.4,567.8 101.1,568.3 102.7,568.9 104.3,569.0 105.7,569.2 107.0,569.9 108.2,570.0 110.4,570.7 111.8,570.7 113.0,570.6 114.3,570.5 115.5,585.0 117.2,585.3 119.0,585.0 120.4,572.0 121.8,573.0 123.0,573.7 124.2,574.4 126.0,575.3 128.8,577.0 129.9,577.7 131.2,577.9 132.7,578.9 134.2,580.0 135.8,580.8 137.5,581.5 139.3,582.1 141.1,583.1 142.9,584.0 144.7,585.1 146.4,585.8 148.1,586.9 149.8,588.0 151.3,588.2 152.7,589.4 154.0,590.0 156.0,591.5 157.6,592.3 159.1,593.5 160.4,595.0 161.6,595.2 162.8,596.7 164.2,597.4 165.8,599.1 167.6,600.0 168.9,601.2 170.3,601.6 171.8,602.0 173.3,603.3 174.9,604.1 176.5,605.0 178.2,605.7 179.9,606.7 181.6,607.7 183.3,608.3 185.0,609.0 186.7,610.3 188.3,610.5 190.0,611.6 191.5,612.5 193.0,613.0 194.5,614.0 196.1,614.2 197.6,615.6 199.1,615.7 200.6,616.2 202.1,617.1 203.7,617.9 205.3,618.3 206.8,619.5 208.4,620.3 210.1,621.5 211.7,622.1 213.4,623.3 214.8,624.0 216.3,624.9 217.8,626.4 219.3,627.6 220.8,628.3 222.3,629.2 223.8,630.8 225.4,631.6 226.9,632.6 228.5,633.7 230.1,635.5 231.6,636.7 233.2,637.8 234.8,638.8 236.4,640.1 237.9,641.0 239.5,642.8 241.0,643.5" fill="none" stroke="#3b4889" stroke-width="1.25" stroke-linejoin="round" stroke-linecap="round" opacity="1.0"/>
<polyline points="68.0,540.8 69.5,541.2 70.9,541.9 72.3,542.5 73.8,543.0 75.5,543.2 77.4,543.8 78.7,544.0 80.2,544.6 81.7,544.7 83.4,545.7 85.0,545.8 86.7,546.6 88.3,546.5 89.9,547.0 91.4,547.2 92.8,547.7 94.6,547.9 96.2,547.9 97.7,547.8 99.2,548.5 100.6,548.1 102.0,548.1 103.5,548.4 107.5,565.7 109.2,565.7 110.8,566.1 112.5,566.2 114.2,566.5 116.4,593.1 119.5,598.0 120.4,570.1 122.1,572.2 124.0,574.0 125.3,575.1 126.7,575.6 128.8,577.0 130.1,578.1 131.6,578.9 133.2,579.1 134.9,580.8 136.7,582.0 138.6,582.9 140.4,583.8 141.8,584.4 143.3,585.9 144.8,586.6 146.3,587.0 147.8,587.9 149.4,589.8 150.9,590.6 152.5,591.3 154.0,592.6 155.5,593.4 157.0,594.7 158.5,596.1 160.0,598.0 161.6,598.9 163.1,600.1 164.6,602.1 166.1,603.3 167.6,604.2 169.1,605.0 170.7,606.7 172.3,607.5 173.9,608.7 175.4,609.5 176.9,610.7 178.4,611.5 179.8,612.4 181.1,613.0 182.9,614.1 184.3,615.5 185.6,616.5 187.4,618.0 190.0,619.8 191.1,620.6 192.4,621.9 193.7,622.5 195.1,623.2 196.6,624.3 198.1,625.3 199.7,626.7 201.4,627.5 203.0,629.1 204.8,630.0 206.5,631.6 208.2,632.9 210.0,634.2 211.7,635.8 213.4,636.8 214.8,637.5 216.3,639.4 217.8,640.2 219.3,641.5 220.8,642.8 222.3,644.2 223.8,645.0 225.4,646.3 226.9,648.1 228.5,648.6 230.1,650.4 231.6,651.7 233.2,652.4 234.8,654.2 236.4,655.6 237.9,657.1 239.5,657.8 241.0,659.2" fill="none" stroke="#3c7a50" stroke-width="1.25" stroke-linejoin="round" stroke-linecap="round" opacity="1.0"/>
<polyline points="68.0,558.5 69.5,559.3 70.9,559.3 72.3,559.6 73.8,560.3 75.5,560.0 77.4,560.8 78.7,561.3 80.1,561.5 81.6,561.5 83.2,562.3 84.8,562.2 86.5,562.6 88.1,563.0 89.7,563.5 91.3,563.3 92.8,563.8 94.4,564.0 96.1,564.2 97.7,564.6 99.4,565.0 101.0,564.7 102.5,565.4 104.0,565.1 105.3,565.3 106.6,565.4 108.5,565.2 110.1,565.3 111.5,565.5 112.9,564.9 114.3,564.6 115.0,580.0 117.0,581.3 119.0,582.0 120.4,570.1 121.9,571.5 123.5,573.0 125.0,574.6 126.5,576.3 128.8,578.0 130.4,579.7 132.1,581.2 133.7,582.9 135.3,583.8 136.9,586.0 138.6,587.8 140.4,589.2 141.8,590.7 143.3,591.8 144.8,593.5 146.3,594.9 147.8,596.7 149.4,599.0 150.9,600.3 152.5,602.0 154.0,603.5 155.5,605.4 157.0,607.2 158.5,608.7 160.0,610.4 161.6,612.2 163.1,613.9 164.6,615.5 166.1,617.1 167.6,618.4 169.1,619.5 170.7,621.2 172.3,622.2 173.9,623.6 175.4,624.1 176.9,625.2 178.4,626.1 179.8,627.8 181.1,628.5 182.9,630.3 184.3,631.3 185.6,632.1 187.4,634.1 190.0,636.0 191.1,637.2 192.4,638.1 193.7,638.9 195.1,640.2 196.6,641.5 198.1,642.8 199.7,644.2 201.4,645.8 203.0,647.5 204.8,648.2 206.5,650.1 208.2,651.0 210.0,652.5 211.7,654.5 213.4,655.5 214.8,656.6 216.3,658.0 217.8,658.7 219.3,659.4 220.8,660.8 222.3,662.1 223.8,663.4 225.4,664.6 226.9,665.2 228.5,666.2 230.1,667.0 231.6,668.6 233.2,669.3 234.8,670.3 236.4,671.2 237.9,672.3 239.5,674.0 241.0,674.9" fill="none" stroke="#e5504f" stroke-width="1.25" stroke-linejoin="round" stroke-linecap="round" opacity="1.0"/>
<polyline points="68.0,556.2 69.6,556.9 71.2,558.7 72.8,559.0 74.4,560.8 75.9,561.1 77.4,562.3 78.9,562.8 80.2,564.3 81.5,564.6 83.1,565.7 85.1,566.2 86.4,566.3 87.8,566.4 89.4,567.4 91.0,567.6 92.8,568.0 94.5,568.2 96.2,567.9 97.8,568.7 99.2,569.1 100.5,569.2 102.7,569.9 104.5,571.2 106.1,571.4 107.5,572.7 108.8,572.7 110.7,572.8 112.2,571.6 113.7,571.4 114.5,572.0 115.5,586.0 117.2,585.6 119.0,586.0 120.4,574.5 122.0,575.1 123.6,575.7 125.2,575.6 126.9,576.3 128.8,577.0 130.3,577.6 131.8,577.6 133.4,578.7 135.1,578.8 136.8,578.9 138.6,579.7 140.4,580.4 141.8,580.9 143.3,581.3 144.8,582.0 146.3,582.0 147.8,583.2 149.4,583.3 150.9,584.1 152.5,584.7 154.0,585.1 155.5,585.6 157.0,586.2 158.6,587.1 160.1,587.9 161.7,588.4 163.2,588.8 164.7,589.2 166.2,589.6 167.6,590.6 169.2,591.7 170.8,592.2 172.4,593.1 173.9,593.4 175.4,594.4 176.9,595.4 178.4,595.8 179.8,596.0 181.5,596.5 182.9,596.4 184.2,596.5 185.7,597.0 187.6,596.8 190.0,597.4 191.2,597.9 192.5,598.2 193.8,598.9 195.3,599.2 196.8,599.2 198.4,599.5 200.1,600.3 201.7,600.9 203.4,601.6 205.1,602.4 206.8,603.0 208.5,602.8 210.2,604.0 211.8,604.5 213.4,604.7 215.0,605.5 216.6,605.7 218.4,605.9 220.1,606.8 221.8,607.3 223.6,607.6 225.3,608.3 227.0,608.2 228.7,608.4 230.3,609.2 231.8,609.9 233.2,609.7 234.4,610.6 235.6,611.1 236.6,611.1 240.0,613.0 241.0,615.1" fill="none" stroke="#29262a" stroke-width="1.25" stroke-linejoin="round" stroke-linecap="round" opacity="1.0"/>
<line x1="337.00" y1="50.80" x2="337.00" y2="182.20" stroke="#2e2a2a" stroke-width="1.4"/>
<line x1="332.50" y1="181.50" x2="516.50" y2="181.50" stroke="#2e2a2a" stroke-width="1.4"/>
<line x1="337.00" y1="181.50" x2="337.00" y2="184.50" stroke="#2e2a2a" stroke-width="1.2"/>
<line x1="516.50" y1="181.50" x2="516.50" y2="184.50" stroke="#2e2a2a" stroke-width="1.2"/>
<line x1="332.50" y1="181.50" x2="337.00" y2="181.50" stroke="#2e2a2a" stroke-width="1.3"/>
<text x="324.90" y="188.00" font-size="14.6" text-anchor="end" >0</text>
<line x1="332.50" y1="151.50" x2="337.00" y2="151.50" stroke="#2e2a2a" stroke-width="1.3"/>
<text x="324.90" y="158.00" font-size="14.6" text-anchor="end" >0.001</text>
<line x1="332.50" y1="121.50" x2="337.00" y2="121.50" stroke="#2e2a2a" stroke-width="1.3"/>
<text x="324.90" y="128.00" font-size="14.6" text-anchor="end" >0.002</text>
<line x1="332.50" y1="91.50" x2="337.00" y2="91.50" stroke="#2e2a2a" stroke-width="1.3"/>
<text x="324.90" y="98.00" font-size="14.6" text-anchor="end" >0.003</text>
<line x1="332.50" y1="61.50" x2="337.00" y2="61.50" stroke="#2e2a2a" stroke-width="1.3"/>
<text x="324.90" y="68.00" font-size="14.6" text-anchor="end" >0.004</text>
<text x="0" y="0" font-size="15" text-anchor="middle" transform="translate(279.80,111.30) rotate(-90)">Quench Rate</text>
<rect x="374.40" y="152.00" width="15.20" height="29.50" fill="#8c8580" stroke="#4a4442" stroke-width="0.9"/>
<line x1="382.00" y1="150.30" x2="382.00" y2="153.70" stroke="#3a2a2a" stroke-width="1.1"/>
<line x1="379.80" y1="150.30" x2="384.20" y2="150.30" stroke="#3a2a2a" stroke-width="1.1"/>
<rect x="391.80" y="77.30" width="15.70" height="104.20" fill="#ea4148" stroke="#7a2226" stroke-width="0.9"/>
<line x1="399.65" y1="73.40" x2="399.65" y2="81.20" stroke="#3a2a2a" stroke-width="1.1"/>
<line x1="397.45" y1="73.40" x2="401.85" y2="73.40" stroke="#3a2a2a" stroke-width="1.1"/>
<rect x="410.10" y="137.80" width="15.00" height="43.70" fill="#1f4a8f" stroke="#142a55" stroke-width="0.9"/>
<line x1="417.60" y1="135.50" x2="417.60" y2="140.10" stroke="#3a2a2a" stroke-width="1.1"/>
<line x1="415.40" y1="135.50" x2="419.80" y2="135.50" stroke="#3a2a2a" stroke-width="1.1"/>
<rect x="428.10" y="118.40" width="15.00" height="63.10" fill="#3f7a3a" stroke="#1f3f1e" stroke-width="0.9"/>
<line x1="435.60" y1="116.00" x2="435.60" y2="120.80" stroke="#3a2a2a" stroke-width="1.1"/>
<line x1="433.40" y1="116.00" x2="437.80" y2="116.00" stroke="#3a2a2a" stroke-width="1.1"/>
<rect x="445.90" y="133.40" width="15.20" height="48.10" fill="#783a4a" stroke="#3e1c26" stroke-width="0.9"/>
<line x1="453.50" y1="127.20" x2="453.50" y2="139.60" stroke="#3a2a2a" stroke-width="1.1"/>
<line x1="451.30" y1="127.20" x2="455.70" y2="127.20" stroke="#3a2a2a" stroke-width="1.1"/>
<rect x="464.20" y="134.30" width="15.30" height="47.20" fill="#f98445" stroke="#8a4a26" stroke-width="0.9"/>
<line x1="471.85" y1="130.50" x2="471.85" y2="138.10" stroke="#3a2a2a" stroke-width="1.1"/>
<line x1="469.65" y1="130.50" x2="474.05" y2="130.50" stroke="#3a2a2a" stroke-width="1.1"/>
<line x1="337.60" y1="293.80" x2="337.60" y2="424.90" stroke="#2e2a2a" stroke-width="1.4"/>
<line x1="333.10" y1="424.20" x2="516.00" y2="424.20" stroke="#2e2a2a" stroke-width="1.4"/>
<line x1="337.60" y1="424.20" x2="337.60" y2="427.20" stroke="#2e2a2a" stroke-width="1.2"/>
<line x1="516.00" y1="424.20" x2="516.00" y2="427.20" stroke="#2e2a2a" stroke-width="1.2"/>
<line x1="333.10" y1="424.20" x2="337.60" y2="424.20" stroke="#2e2a2a" stroke-width="1.3"/>
<text x="325.60" y="430.70" font-size="14.6" text-anchor="end" >0</text>
<line x1="333.10" y1="395.08" x2="337.60" y2="395.08" stroke="#2e2a2a" stroke-width="1.3"/>
<text x="325.60" y="401.58" font-size="14.6" text-anchor="end" >0.001</text>
<line x1="333.10" y1="365.96" x2="337.60" y2="365.96" stroke="#2e2a2a" stroke-width="1.3"/>
<text x="325.60" y="372.46" font-size="14.6" text-anchor="end" >0.002</text>
<line x1="333.10" y1="336.84" x2="337.60" y2="336.84" stroke="#2e2a2a" stroke-width="1.3"/>
<text x="325.60" y="343.34" font-size="14.6" text-anchor="end" >0.003</text>
<line x1="333.10" y1="307.72" x2="337.60" y2="307.72" stroke="#2e2a2a" stroke-width="1.3"/>
<text x="325.60" y="314.22" font-size="14.6" text-anchor="end" >0.004</text>
<text x="0" y="0" font-size="15" text-anchor="middle" transform="translate(282.00,355.00) rotate(-90)">Quench Rate</text>
<rect x="374.20" y="399.50" width="15.90" height="24.70" fill="#8c8580" stroke="#4a4442" stroke-width="0.9"/>
<line x1="382.15" y1="396.50" x2="382.15" y2="402.50" stroke="#3a2a2a" stroke-width="1.1"/>
<line x1="379.95" y1="396.50" x2="384.35" y2="396.50" stroke="#3a2a2a" stroke-width="1.1"/>
<rect x="391.90" y="378.10" width="15.70" height="46.10" fill="#ea4148" stroke="#7a2226" stroke-width="0.9"/>
<line x1="399.75" y1="375.80" x2="399.75" y2="380.40" stroke="#3a2a2a" stroke-width="1.1"/>
<line x1="397.55" y1="375.80" x2="401.95" y2="375.80" stroke="#3a2a2a" stroke-width="1.1"/>
<rect x="410.40" y="373.90" width="15.00" height="50.30" fill="#1f4a8f" stroke="#142a55" stroke-width="0.9"/>
<line x1="417.90" y1="372.30" x2="417.90" y2="375.50" stroke="#3a2a2a" stroke-width="1.1"/>
<line x1="415.70" y1="372.30" x2="420.10" y2="372.30" stroke="#3a2a2a" stroke-width="1.1"/>
<rect x="427.70" y="356.20" width="15.70" height="68.00" fill="#3f7a3a" stroke="#1f3f1e" stroke-width="0.9"/>
<line x1="435.55" y1="352.90" x2="435.55" y2="359.50" stroke="#3a2a2a" stroke-width="1.1"/>
<line x1="433.35" y1="352.90" x2="437.75" y2="352.90" stroke="#3a2a2a" stroke-width="1.1"/>
<rect x="445.70" y="366.10" width="15.50" height="58.10" fill="#783a4a" stroke="#3e1c26" stroke-width="0.9"/>
<line x1="453.45" y1="363.80" x2="453.45" y2="368.40" stroke="#3a2a2a" stroke-width="1.1"/>
<line x1="451.25" y1="363.80" x2="455.65" y2="363.80" stroke="#3a2a2a" stroke-width="1.1"/>
<rect x="463.50" y="386.60" width="15.40" height="37.60" fill="#f98445" stroke="#8a4a26" stroke-width="0.9"/>
<line x1="471.20" y1="383.20" x2="471.20" y2="390.00" stroke="#3a2a2a" stroke-width="1.1"/>
<line x1="469.00" y1="383.20" x2="473.40" y2="383.20" stroke="#3a2a2a" stroke-width="1.1"/>
<line x1="339.00" y1="537.30" x2="339.00" y2="664.50" stroke="#2e2a2a" stroke-width="1.4"/>
<line x1="334.50" y1="663.80" x2="516.00" y2="663.80" stroke="#2e2a2a" stroke-width="1.4"/>
<line x1="339.00" y1="663.80" x2="339.00" y2="666.80" stroke="#2e2a2a" stroke-width="1.2"/>
<line x1="516.00" y1="663.80" x2="516.00" y2="666.80" stroke="#2e2a2a" stroke-width="1.2"/>
<line x1="334.50" y1="663.80" x2="339.00" y2="663.80" stroke="#2e2a2a" stroke-width="1.3"/>
<text x="326.30" y="670.30" font-size="14.6" text-anchor="end" >0</text>
<line x1="334.50" y1="635.55" x2="339.00" y2="635.55" stroke="#2e2a2a" stroke-width="1.3"/>
<text x="326.30" y="642.05" font-size="14.6" text-anchor="end" >0.001</text>
<line x1="334.50" y1="607.30" x2="339.00" y2="607.30" stroke="#2e2a2a" stroke-width="1.3"/>
<text x="326.30" y="613.80" font-size="14.6" text-anchor="end" >0.002</text>
<line x1="334.50" y1="579.05" x2="339.00" y2="579.05" stroke="#2e2a2a" stroke-width="1.3"/>
<text x="326.30" y="585.55" font-size="14.6" text-anchor="end" >0.003</text>
<line x1="334.50" y1="550.80" x2="339.00" y2="550.80" stroke="#2e2a2a" stroke-width="1.3"/>
<text x="326.30" y="557.30" font-size="14.6" text-anchor="end" >0.004</text>
<text x="0" y="0" font-size="15" text-anchor="middle" transform="translate(284.30,597.00) rotate(-90)">Quench Rate</text>
<rect x="375.10" y="622.60" width="15.70" height="41.20" fill="#8c8580" stroke="#4a4442" stroke-width="0.9"/>
<line x1="382.95" y1="621.20" x2="382.95" y2="624.00" stroke="#3a2a2a" stroke-width="1.1"/>
<line x1="380.75" y1="621.20" x2="385.15" y2="621.20" stroke="#3a2a2a" stroke-width="1.1"/>
<rect x="392.60" y="552.70" width="15.90" height="111.10" fill="#ea4148" stroke="#7a2226" stroke-width="0.9"/>
<line x1="400.55" y1="544.20" x2="400.55" y2="561.20" stroke="#3a2a2a" stroke-width="1.1"/>
<line x1="398.35" y1="544.20" x2="402.75" y2="544.20" stroke="#3a2a2a" stroke-width="1.1"/>
<rect x="411.10" y="599.50" width="15.00" height="64.30" fill="#1f4a8f" stroke="#142a55" stroke-width="0.9"/>
<line x1="418.60" y1="594.70" x2="418.60" y2="604.30" stroke="#3a2a2a" stroke-width="1.1"/>
<line x1="416.40" y1="594.70" x2="420.80" y2="594.70" stroke="#3a2a2a" stroke-width="1.1"/>
<rect x="428.80" y="578.80" width="15.30" height="85.00" fill="#3f7a3a" stroke="#1f3f1e" stroke-width="0.9"/>
<line x1="436.45" y1="576.50" x2="436.45" y2="581.10" stroke="#3a2a2a" stroke-width="1.1"/>
<line x1="434.25" y1="576.50" x2="438.65" y2="576.50" stroke="#3a2a2a" stroke-width="1.1"/>
<rect x="446.60" y="590.80" width="15.30" height="73.00" fill="#783a4a" stroke="#3e1c26" stroke-width="0.9"/>
<line x1="454.25" y1="586.20" x2="454.25" y2="595.40" stroke="#3a2a2a" stroke-width="1.1"/>
<line x1="452.05" y1="586.20" x2="456.45" y2="586.20" stroke="#3a2a2a" stroke-width="1.1"/>
<rect x="464.20" y="608.80" width="15.40" height="55.00" fill="#f98445" stroke="#8a4a26" stroke-width="0.9"/>
<line x1="471.90" y1="603.50" x2="471.90" y2="614.10" stroke="#3a2a2a" stroke-width="1.1"/>
<line x1="469.70" y1="603.50" x2="474.10" y2="603.50" stroke="#3a2a2a" stroke-width="1.1"/>
<rect x="461.2" y="14.10" width="6.6" height="6.0" fill="#8c8580" stroke="#4a4040" stroke-width="0.9"/>
<text x="471.30" y="21.50" font-size="11.9" text-anchor="start"  textLength="24.33" lengthAdjust="spacingAndGlyphs">CHO</text>
<rect x="461.2" y="31.15" width="6.6" height="6.0" fill="#ea4148" stroke="#4a4040" stroke-width="0.9"/>
<text x="471.30" y="38.55" font-size="11.9" text-anchor="start"  textLength="42.00" lengthAdjust="spacingAndGlyphs">N2-310a</text>
<rect x="461.2" y="48.20" width="6.6" height="6.0" fill="#1f4a8f" stroke="#4a4040" stroke-width="0.9"/>
<text x="471.30" y="55.60" font-size="11.9" text-anchor="start"  textLength="42.00" lengthAdjust="spacingAndGlyphs">N1-1816</text>
<rect x="461.2" y="65.25" width="6.6" height="6.0" fill="#3f7a3a" stroke="#4a4040" stroke-width="0.9"/>
<text x="471.30" y="72.65" font-size="11.9" text-anchor="start"  textLength="29.82" lengthAdjust="spacingAndGlyphs">N1-94</text>
<rect x="461.2" y="82.30" width="6.6" height="6.0" fill="#783a4a" stroke="#4a4040" stroke-width="0.9"/>
<text x="471.30" y="89.70" font-size="11.9" text-anchor="start"  textLength="35.30" lengthAdjust="spacingAndGlyphs">N1-116</text>
<rect x="461.2" y="99.35" width="6.6" height="6.0" fill="#f98445" stroke="#4a4040" stroke-width="0.9"/>
<text x="471.30" y="106.75" font-size="11.9" text-anchor="start"  textLength="35.91" lengthAdjust="spacingAndGlyphs">N1-123</text>
</svg></body></html>
